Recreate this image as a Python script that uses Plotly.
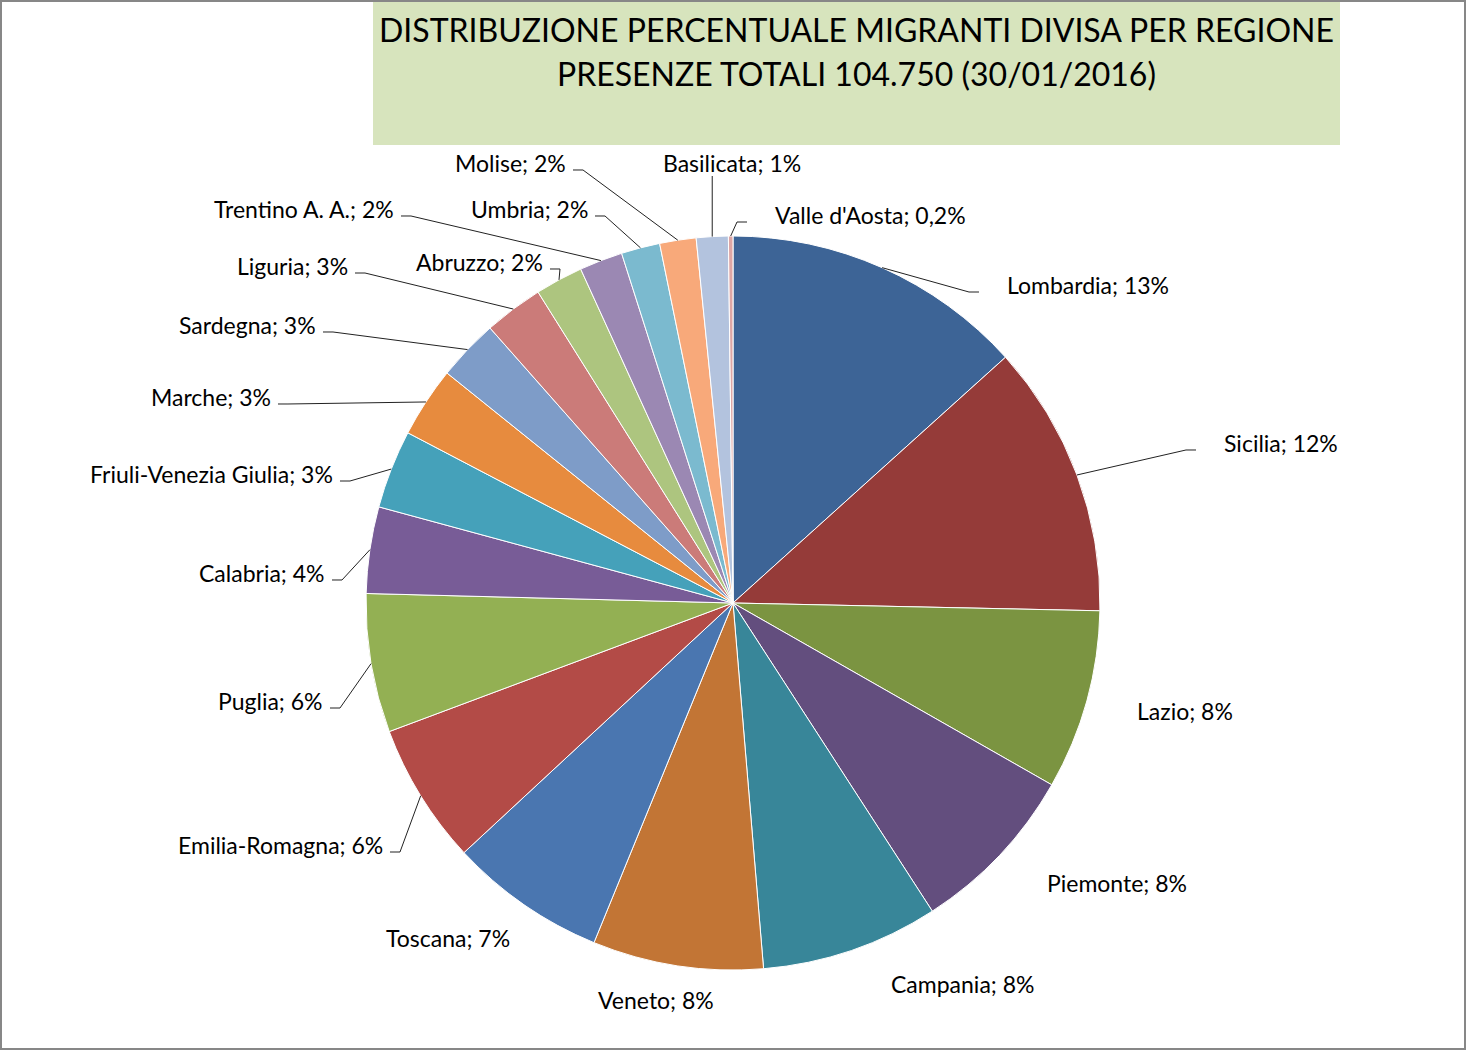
import math
import plotly.graph_objects as go

# ---------------- data ----------------
regions = ["Lombardia", "Sicilia", "Lazio", "Piemonte", "Campania", "Veneto",
           "Toscana", "Emilia-Romagna", "Puglia", "Calabria",
           "Friuli-Venezia Giulia", "Marche", "Sardegna", "Liguria", "Abruzzo",
           "Trentino A. A.", "Umbria", "Molise", "Basilicata", "Valle d'Aosta"]
shares = [13.3, 12.0, 7.9, 7.6, 7.8, 7.5, 6.9, 6.2, 6.1, 3.8,
          3.45, 3.1, 2.7, 2.6, 2.1, 1.9, 1.7, 1.6, 1.4, 0.2]
title_line1 = "DISTRIBUZIONE PERCENTUALE MIGRANTI DIVISA PER REGIONE"
title_line2 = "PRESENZE TOTALI 104.750 (30/01/2016)"

# ---------------- styles ----------------
colors = ["#3D6496", "#953B39", "#7B9441", "#634E7E", "#388699", "#C27535",
          "#4A76B0", "#B34B47", "#93B053", "#785C97", "#45A1BA", "#E78B3E",
          "#7E9CC8", "#CB7B79", "#ADC57F", "#9B88B3", "#7BBACF", "#F8A97A",
          "#B3C3DE", "#DDA6A5"]

W, H = 1466, 1050
CX, CY, R = 733, 603, 367          # pie centre / radius in pixels
FONT = "Lato"

# label placement (pixel x, pixel y centre, x-anchor, leader mode)
label_layout = [
    (1005, 285, "left", "r"),
    (1222, 443, "left", "r"),
    (1135, 711, "left", None),
    (1045, 883, "left", None),
    (889, 984, "left", None),
    (596, 1000, "left", None),
    (384, 938, "left", None),
    (385, 845, "right", "l"),
    (325, 701, "right", "l"),
    (327, 573, "right", "l"),
    (335, 474, "right", "l"),
    (273, 397, "right", "l"),
    (318, 325, "right", "l"),
    (350, 266, "right", "l"),
    (545, 262, "right", "l"),
    (396, 209, "right", "l"),
    (590, 209, "right", "l"),
    (568, 163, "right", "l"),
    (661, 163, "left", "b"),
    (773, 215, "left", "r"),
]


def px(x):
    return x / W


def py(y):
    return 1 - y / H


total = sum(shares)


def pct_text(v):
    p = v / total * 100
    if p < 0.5:
        return ("%.1f" % p).replace(".", ",") + "%"
    return "%d%%" % int(round(p))


fig = go.Figure()
fig.add_trace(go.Pie(
    labels=regions, values=shares, sort=False, direction="clockwise",
    rotation=0, marker=dict(colors=colors, line=dict(color="white", width=1)),
    textinfo="none", hoverinfo="label+percent", showlegend=False,
    domain=dict(x=[px(CX - R), px(CX + R)], y=[py(CY + R), py(CY - R)]),
))

annotations = []
shapes = []

# frame and title box
shapes.append(dict(type="rect", xref="paper", yref="paper", x0=px(373), x1=px(1340),
                   y0=py(145), y1=1, fillcolor="#D7E4BD", line=dict(width=0), layer="below"))
shapes.append(dict(type="rect", xref="paper", yref="paper", x0=0, x1=1, y0=0, y1=1,
                   line=dict(color="#878787", width=4)))

annotations.append(dict(text=title_line1, x=px(856), y=py(29), xref="paper", yref="paper",
                        showarrow=False, xanchor="center", yanchor="middle",
                        font=dict(family=FONT, size=32, color="black")))
annotations.append(dict(text=title_line2, x=px(856), y=py(73), xref="paper", yref="paper",
                        showarrow=False, xanchor="center", yanchor="middle",
                        font=dict(family=FONT, size=32, color="black")))

cum = 0.0
for name, v, (lx, ly, anch, mode) in zip(regions, shares, label_layout):
    mid = (cum + v / 2) / total * 2 * math.pi
    cum += v
    ex = CX + R * math.sin(mid)
    ey = CY - R * math.cos(mid)
    annotations.append(dict(text="%s; %s" % (name, pct_text(v)), x=px(lx), y=py(ly),
                            xref="paper", yref="paper", showarrow=False,
                            xanchor=anch, yanchor="middle",
                            font=dict(family=FONT, size=23, color="black")))
    pts = None
    if mode == "r":
        pts = [(ex, ey), (lx - 36, ly + 7), (lx - 26, ly + 7)]
    elif mode == "l":
        pts = [(ex, ey), (lx + 15, ly + 7), (lx + 5, ly + 7)]
    elif mode == "b":
        pts = [(ex, ey), (ex, ly + 13)]
    if pts:
        path = "M " + " L ".join("%.5f,%.5f" % (px(a), py(b)) for a, b in pts)
        shapes.append(dict(type="path", xref="paper", yref="paper", path=path,
                           line=dict(color="#222222", width=1)))

fig.update_layout(
    width=W, height=H, margin=dict(l=0, r=0, t=0, b=0),
    paper_bgcolor="white", plot_bgcolor="white",
    annotations=annotations, shapes=shapes,
)

fig.write_html("out.html", config={"displayModeBar": False},
               post_script="document.body.style.margin='0px';")
